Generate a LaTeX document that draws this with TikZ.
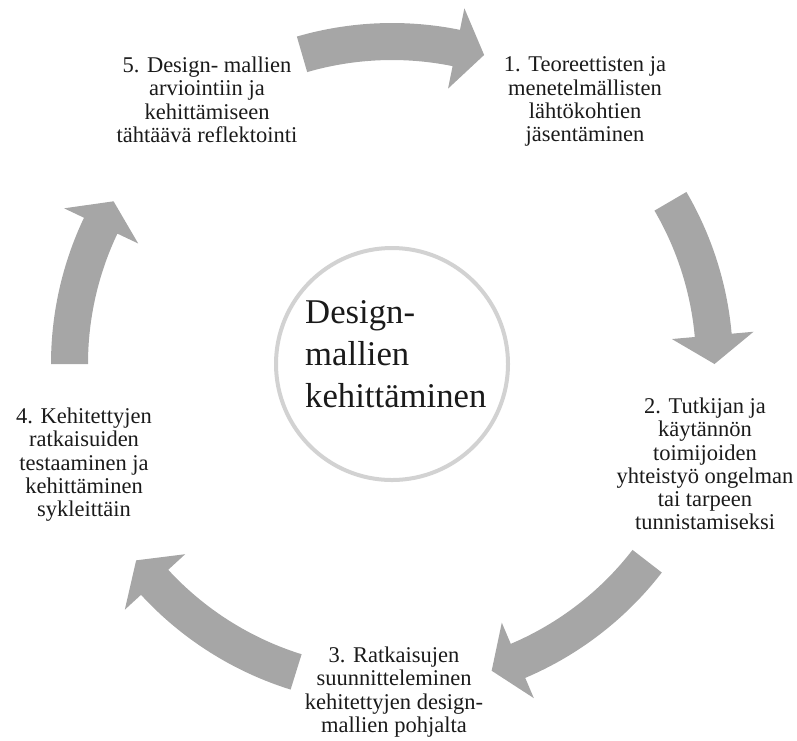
\documentclass[tikz,border=0pt]{standalone}
\usepackage{fontspec}
\setmainfont{Liberation Serif}
\definecolor{arrowgray}{HTML}{A6A6A6}
\definecolor{ringgray}{HTML}{D2D2D2}
\definecolor{inktext}{HTML}{1A1A1A}

% One curved block arrow on the ring: #1 tail angle, #2 head base angle, #3 tip angle
\newcommand\cyclearrow[3]{%
  \fill[arrowgray] (#1:341) arc[start angle=#1, end angle=#2, radius=341]
    -- (#2:363) -- (#3:322.5) -- (#2:281) -- (#2:304)
    arc[start angle=#2, end angle=#1, radius=304] -- cycle;}

\begin{document}
\begin{tikzpicture}[x=1pt, y=1pt,
  stagelabel/.style={anchor=north, align=center, inner sep=0pt, text=inktext,
    font=\fontsize{22.5}{23.3}\selectfont},
  hub/.style={circle, draw=ringgray, line width=4pt, minimum size=232pt, inner sep=0pt},
  hubtext/.style={anchor=north west, align=left, inner sep=0pt, text=inktext,
    font=\fontsize{34.7}{42}\selectfont}]
\useasboundingbox (0,0) rectangle (797,-740);

% ring of arrows
\begin{scope}[shift={(392,-364)}]
  \cyclearrow{106.2}{78.5}{73.4}
  \cyclearrow{30.3}{5.1}{0}
  \cyclearrow{-37.7}{-67}{-72}
  \cyclearrow{-107.3}{-137.4}{-142.5}
  \cyclearrow{180}{154.6}{149.7}
\end{scope}

% centre
\node[hub] (hub) at (392,-364) {};
\node[hubtext] (title) at (305,-300) {Design-\\mallien\\kehittäminen};

% stages
\node[stagelabel] (s1) at (585,-56.6) {1. Teoreettisten ja\\menetelmällisten\\lähtökohtien\\jäsentäminen};
\node[stagelabel] (s2) at (705,-397.6) {2. Tutkijan ja\\käytännön\\toimijoiden\\yhteistyö ongelman\\tai tarpeen\\tunnistamiseksi};
\node[stagelabel] (s3) at (394,-646.6) {3. Ratkaisujen\\suunnitteleminen\\kehitettyjen design-\\mallien pohjalta};
\node[stagelabel] (s4) at (84,-407.6) {4. Kehitettyjen\\ratkaisuiden\\testaaminen ja\\kehittäminen\\sykleittäin};
\node[stagelabel] (s5) at (207,-56.6) {5. Design- mallien\\arviointiin ja\\kehittämiseen\\tähtäävä reflektointi};
\end{tikzpicture}
\end{document}
